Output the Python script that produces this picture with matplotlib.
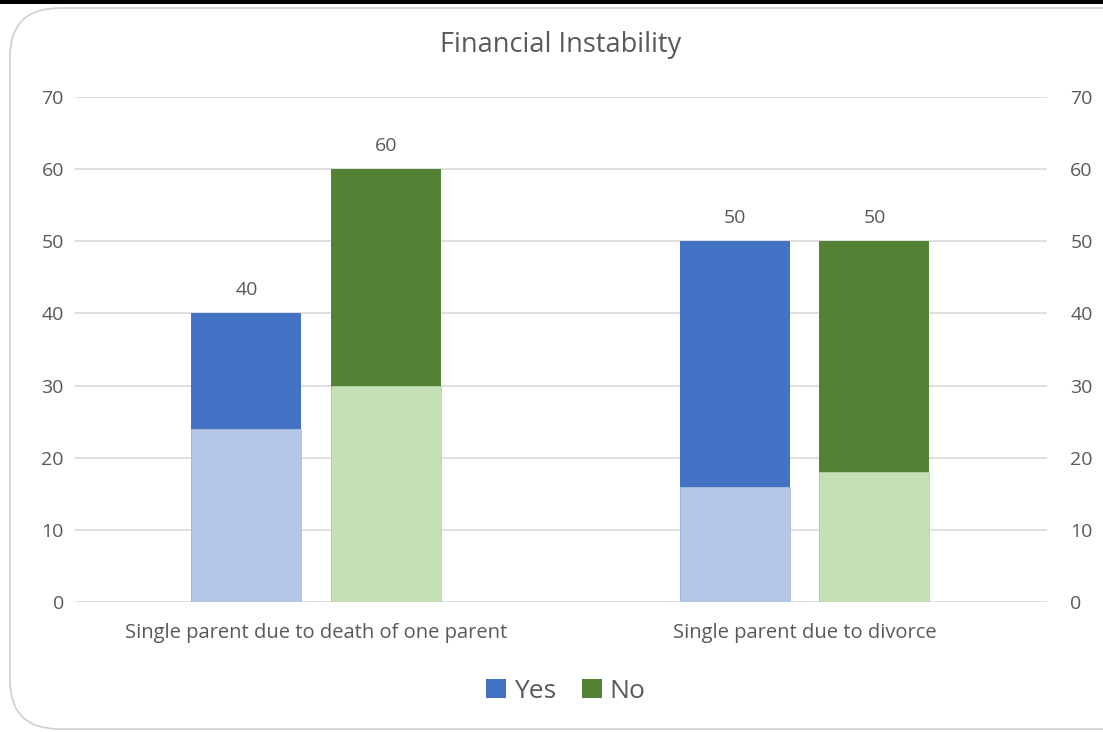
import matplotlib.pyplot as plt
from matplotlib.patches import FancyBboxPatch, Rectangle
import numpy as np

categories = ["Single parent due to death of one parent", "Single parent due to divorce"]
yes_total = [40, 50]
no_total = [60, 50]
yes_lower = [24, 16]
no_lower = [30, 18]
y_ticks = [0, 10, 20, 30, 40, 50, 60, 70]

blue_dark = "#4472C4"
blue_light = "#B4C7E7"
green_dark = "#548235"
green_light = "#C5E0B4"
text_grey = "#595959"

plt.rcParams["font.family"] = ["Open Sans", "DejaVu Sans"]

fig = plt.figure(figsize=(11.03, 7.32), dpi=100)

# rounded chart frame and the dark strip along the top edge
frame = FancyBboxPatch((0.009, 0.004), 1.2, 0.985,
                       boxstyle="round,pad=0,rounding_size=0.045",
                       transform=fig.transFigure, facecolor="white",
                       edgecolor="#D0D0D0", linewidth=1.2, mutation_aspect=1.5,
                       zorder=-2)
fig.patches.append(frame)
fig.patches.append(Rectangle((0, 0.994), 1, 0.006, transform=fig.transFigure,
                             facecolor="black", edgecolor="none", zorder=-1))

ax = fig.add_axes([0.068, 0.1776, 0.881, 0.69])
ax.set_facecolor("none")

x = np.arange(len(categories))
width = 0.225
offset = 0.1425

ax.bar(x - offset, yes_total, width, color=blue_dark, label="Yes", zorder=2)
ax.bar(x + offset, no_total, width, color=green_dark, label="No", zorder=2)
ax.bar(x - offset, yes_lower, width, color=blue_light, edgecolor="#A9BFE3",
       linewidth=0.6, zorder=3)
ax.bar(x + offset, no_lower, width, color=green_light, edgecolor="#B5D6A3",
       linewidth=0.6, zorder=3)

for xi, v in zip(x - offset, yes_total):
    ax.text(xi, v + 2.0, str(v), ha="center", va="bottom", fontsize=14, color=text_grey)
for xi, v in zip(x + offset, no_total):
    ax.text(xi, v + 2.0, str(v), ha="center", va="bottom", fontsize=14, color=text_grey)

ax.set_xlim(-0.493, 1.495)
ax.set_ylim(0, 70)
ax.set_yticks(y_ticks)
ax.yaxis.grid(True, color="#D9D9D9", linewidth=1.2, zorder=0)
ax.set_axisbelow(True)
for s in ax.spines.values():
    s.set_visible(False)
ax.tick_params(axis="both", length=0, colors=text_grey, labelsize=14)
ax.tick_params(axis="y", pad=8)
ax.tick_params(axis="x", pad=15, labelsize=14.5)
ax.set_xticks(x)
ax.set_xticklabels(categories)

ax2 = ax.twinx()
ax2.set_ylim(0, 70)
ax2.set_yticks(y_ticks)
for s in ax2.spines.values():
    s.set_visible(False)
ax2.tick_params(axis="y", length=0, colors=text_grey, labelsize=14, pad=17)

fig.text(0.508, 0.938, "Financial Instability", ha="center", va="center",
         fontsize=19.5, color=text_grey)

fig.legend(loc="center", bbox_to_anchor=(0.513, 0.056), ncol=2, frameon=False,
           fontsize=19, labelcolor=text_grey, handlelength=0.75, handleheight=0.75,
           handletextpad=0.3, columnspacing=1.0)

fig.savefig("out.png", dpi=100)
